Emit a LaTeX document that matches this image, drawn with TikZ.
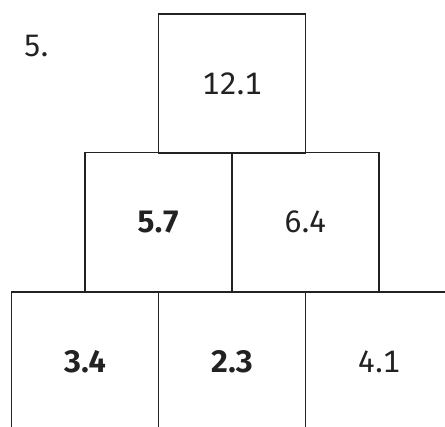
\documentclass[tikz,border=0pt]{standalone}
\usepackage{fontspec}
\setmainfont{Fira Sans}[Numbers=Monospaced]
\definecolor{ink}{HTML}{222222}
\begin{document}
\begin{tikzpicture}[x=1pt,y=-1pt,
  cell/.style={draw=ink,line width=1.5pt,minimum width=147pt,minimum height=139pt,inner sep=0pt,text=ink,font=\fontsize{31}{36}\selectfont},
  boldcell/.style={cell,font=\fontsize{31}{36}\selectfont\bfseries}]
\useasboundingbox (0,0) rectangle (445,427);
\node[cell] (t) at (232,83.5) {12.1};
\node[boldcell] (ml) at (158.5,222) {5.7};
\node[cell] (mr) at (305.5,222) {6.4};
\node[boldcell] (bl) at (85,361.5) {3.4};
\node[boldcell] (bm) at (232,361.5) {2.3};
\node[cell] (br) at (379,361.5) {4.1};
\node[text=ink,font=\fontsize{31}{36}\selectfont,inner sep=0pt] (num) at (36,46) {5.};
\end{tikzpicture}
\end{document}
